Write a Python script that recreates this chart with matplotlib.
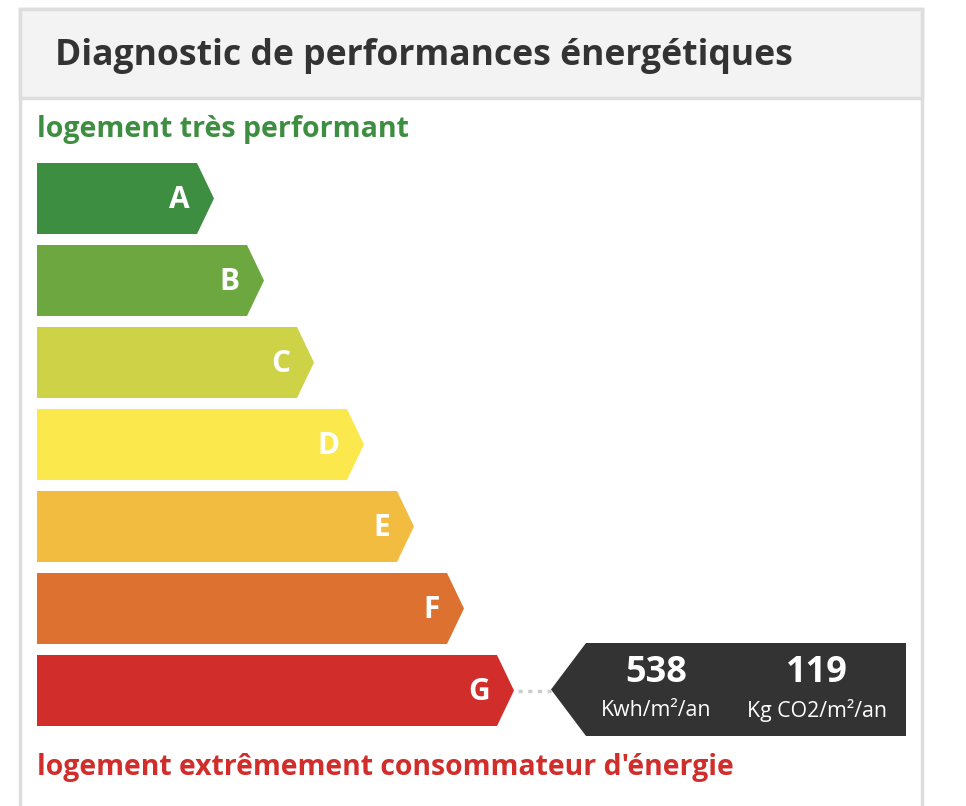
import matplotlib
matplotlib.use("Agg")
import matplotlib.pyplot as plt
from matplotlib.patches import Polygon, Rectangle

# ---- data ----
grades = ["A", "B", "C", "D", "E", "F", "G"]
grade_colors = ["#3e8e41", "#6ca83f", "#cdd246", "#fbe84c", "#f2bc41", "#dd712f", "#d12d2b"]
current_grade = "G"
energy_value = 538
energy_unit = "Kwh/m²/an"
ges_value = 119
ges_unit = "Kg CO2/m²/an"
title = "Diagnostic de performances énergétiques"
top_label = "logement très performant"
bottom_label = "logement extrêmement consommateur d'énergie"

W, H = 966, 806
fig = plt.figure(figsize=(W / 100, H / 100), dpi=100)
ax = fig.add_axes([0, 0, 1, 1])
ax.set_xlim(0, W)
ax.set_ylim(H, 0)
ax.axis("off")

FONT = "Open Sans"

# panel
ax.add_patch(Rectangle((20, 9), 902, 900, facecolor="white", edgecolor="#dddddd", lw=2.5, zorder=0))
ax.add_patch(Rectangle((20, 9), 902, 89, facecolor="#f3f3f3", edgecolor="#dddddd", lw=2.5, zorder=1))
ax.text(55, 56, title, fontsize=25.6, fontweight="bold", color="#333333", family=FONT,
        va="center", ha="left", zorder=3)

ax.text(37, 130, top_label, fontsize=20.5, fontweight="bold", color="#3e8e41", family=FONT,
        va="center", ha="left")

# bars
x0 = 37
top0 = 163
pitch = 82
bh = 71
base_len = 160
step = 50
tip = 17
for i, (g, c) in enumerate(zip(grades, grade_colors)):
    y = top0 + i * pitch
    xr = x0 + base_len + i * step
    poly = Polygon([(x0, y), (xr, y), (xr + tip, y + bh / 2), (xr, y + bh), (x0, y + bh)],
                   closed=True, facecolor=c, edgecolor="none", zorder=2)
    ax.add_patch(poly)
    ax.text(xr - 7, y + bh / 2 + 2, g, fontsize=21.5, fontweight="bold", color="white", family=FONT,
            ha="right", va="center", zorder=3)
    if g == current_grade:
        yc = y + bh / 2
        ax.plot([xr + tip + 4, 551], [yc, yc], ls=(0, (1.2, 1.6)), color="#cccccc", lw=2.5, zorder=2)
        bx0, bx1 = 586, 906
        btop, bbot = 643, 736
        ax.add_patch(Polygon([(551, (btop + bbot) / 2), (bx0, btop), (bx1, btop), (bx1, bbot), (bx0, bbot)],
                             closed=True, facecolor="#333333", edgecolor="none", zorder=2))
        for cx, val, unit in [(656, energy_value, energy_unit), (817, ges_value, ges_unit)]:
            ax.text(cx, 673, str(val), fontsize=26, fontweight="bold", color="white", family=FONT,
                    ha="center", va="center", zorder=3)
            ax.text(cx, 711, unit, fontsize=15.3, color="white", family=FONT,
                    ha="center", va="center", zorder=3)

ax.text(37, 768, bottom_label, fontsize=20.4, fontweight="bold", color="#d12d2b", family=FONT,
        va="center", ha="left")

fig.savefig("out.png", dpi=100)
